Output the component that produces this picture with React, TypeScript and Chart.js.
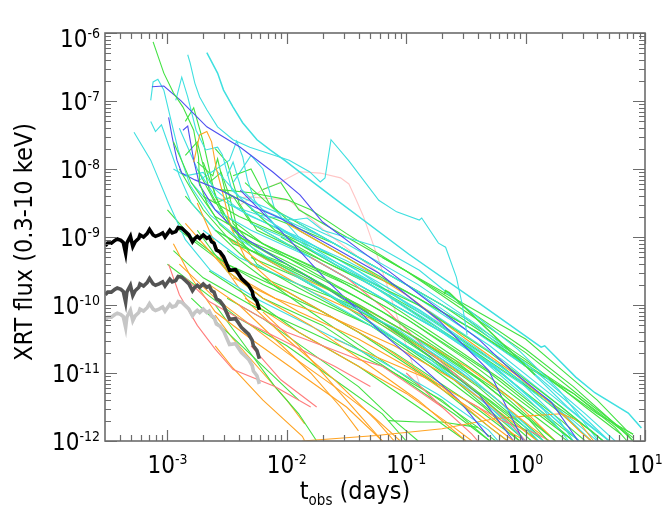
import { useEffect, useRef } from "react";
import { Chart, registerables } from "chart.js";

Chart.register(...registerables);

// Each track is a list of [log10 t (days), log10 flux (erg cm^-2 s^-1)]
type Track = [number, number][];

const T_MIN = 3.08e-4;
const T_MAX = 10;
const F_MIN = 1e-12;
const F_MAX = 1e-6;

const xTickExponents = [-3, -2, -1, 0, 1];
const yTickExponents = [-6, -7, -8, -9, -10, -11, -12];

// Template light curves (thick): shared sampling times
const thickLogT = [-3.52, -3.5, -3.47, -3.44, -3.42, -3.39, -3.37, -3.35, -3.34, -3.31, -3.29, -3.27, -3.24, -3.23, -3.2, -3.17, -3.15, -3.12, -3.1, -3.07, -3.04, -3.02, -3.0, -2.98, -2.96, -2.93, -2.91, -2.88, -2.85, -2.82, -2.79, -2.77, -2.75, -2.73, -2.7, -2.67, -2.65, -2.63, -2.61, -2.59, -2.56, -2.53, -2.5, -2.48, -2.43, -2.41, -2.38, -2.35, -2.32, -2.29, -2.28, -2.25, -2.23];
const blackLogF = [-9.13, -9.09, -9.09, -9.05, -9.03, -9.05, -9.08, -9.24, -9.09, -8.99, -9.14, -9.07, -9.02, -8.97, -9.0, -8.95, -8.89, -8.97, -8.99, -8.97, -8.94, -9.0, -8.95, -8.9, -8.94, -8.92, -8.86, -8.87, -8.92, -8.97, -9.07, -9.02, -8.99, -9.02, -8.97, -9.02, -9.0, -9.07, -9.09, -9.19, -9.22, -9.29, -9.41, -9.49, -9.48, -9.53, -9.61, -9.66, -9.71, -9.8, -9.88, -9.95, -10.07];
const darkGrayLogF = [-9.85, -9.81, -9.81, -9.77, -9.75, -9.77, -9.8, -9.96, -9.81, -9.71, -9.86, -9.79, -9.74, -9.69, -9.72, -9.67, -9.61, -9.69, -9.71, -9.69, -9.66, -9.72, -9.67, -9.62, -9.66, -9.64, -9.58, -9.59, -9.64, -9.69, -9.79, -9.74, -9.71, -9.74, -9.69, -9.74, -9.72, -9.79, -9.81, -9.91, -9.94, -10.01, -10.13, -10.21, -10.2, -10.25, -10.33, -10.38, -10.43, -10.52, -10.6, -10.67, -10.79];
const lightGrayLogF = [-10.22, -10.18, -10.18, -10.14, -10.12, -10.14, -10.17, -10.33, -10.18, -10.08, -10.23, -10.16, -10.11, -10.06, -10.09, -10.04, -9.98, -10.06, -10.08, -10.06, -10.03, -10.09, -10.04, -9.99, -10.03, -10.01, -9.95, -9.96, -10.01, -10.06, -10.16, -10.11, -10.08, -10.11, -10.06, -10.11, -10.09, -10.16, -10.18, -10.28, -10.31, -10.38, -10.5, -10.58, -10.57, -10.62, -10.7, -10.75, -10.8, -10.89, -10.97, -11.04, -11.16];

const cyanLongTrack: Track = [[-2.67, -6.29], [-2.58, -6.59], [-2.53, -6.84], [-2.45, -7.09], [-2.37, -7.32], [-2.25, -7.57], [-2.14, -7.72], [-2.02, -7.87], [-1.85, -8.1], [-1.64, -8.38], [-0.98, -9.25], [-0.31, -10.07], [0.13, -10.62], [0.16, -10.6], [0.42, -11.06], [0.58, -11.29], [0.86, -11.59], [0.97, -11.81]];

const cyanTracks: Track[] = [
  [[-2.83, -6.32], [-2.81, -6.44], [-2.77, -6.74], [-2.73, -6.94], [-2.67, -7.13], [-2.58, -7.38], [-2.45, -7.57], [-2.31, -7.68], [-2.17, -7.76], [-1.98, -7.87], [-1.81, -8.04], [-1.72, -8.19], [-1.68, -8.13], [-1.63, -7.57], [-1.48, -7.88], [-1.23, -8.46], [-1.08, -8.63], [-0.89, -8.75], [-0.87, -8.72], [-0.73, -9.09], [-0.67, -9.15], [-0.58, -9.59], [-0.53, -10.0], [-0.49, -10.44]],
  [[-3.14, -6.99], [-3.12, -6.72], [-3.08, -6.68], [-3.03, -6.84], [-2.98, -7.21], [-2.91, -7.72], [-2.81, -8.24], [-2.64, -8.68], [-2.39, -9.04], [-2.06, -9.41], [-1.56, -9.93], [-1.06, -10.37], [-0.56, -10.96], [-0.23, -11.4], [0.11, -12]],
  [[-2.93, -6.99], [-2.88, -6.65], [-2.83, -6.94], [-2.76, -7.43], [-2.68, -7.72], [-2.58, -7.68], [-2.54, -7.79], [-2.46, -8.31], [-2.23, -8.68], [-1.89, -9.04], [-1.48, -9.49], [-0.89, -10.07], [-0.39, -10.66], [-0.06, -11.1], [0.28, -11.69], [0.4, -12]],
  [[-2.73, -8.16], [-2.6, -8.01], [-2.48, -7.87], [-2.42, -7.59], [-2.37, -7.82], [-2.33, -8.16], [-2.27, -8.46], [-2.1, -8.82], [-1.73, -9.26], [-1.23, -9.78], [-0.73, -10.37], [-0.23, -10.96], [0.15, -11.54], [0.36, -12]],
  [[-3.28, -7.46], [-3.14, -7.87], [-3.0, -8.46], [-2.85, -9.04], [-2.64, -9.49], [-2.23, -9.93], [-1.73, -10.37], [-1.23, -10.81], [-0.73, -11.32], [-0.31, -11.84], [-0.23, -12]],
  [[-2.48, -8.53], [-2.23, -8.68], [-1.95, -8.75], [-1.83, -8.72], [-1.7, -8.9], [-1.23, -9.15], [-0.89, -9.49], [-0.48, -10.07], [-0.06, -10.66], [0.28, -11.25], [0.61, -12]],
  [[-2.8, -8.2], [-2.6, -8.6], [-2.3, -8.9], [-1.8, -9.3], [-1.2, -9.9], [-0.6, -10.5], [0.0, -11.2], [0.4, -11.7], [0.6, -12]],
  [[-2.6, -8.0], [-2.4, -8.4], [-2.0, -8.7], [-1.5, -9.1], [-0.9, -9.7], [-0.4, -10.3], [0.1, -11.0], [0.5, -11.6], [0.75, -12]],
  [[-2.2, -8.9], [-1.8, -9.3], [-1.2, -9.9], [-0.7, -10.4], [-0.2, -11.0], [0.2, -11.6], [0.45, -12]],
  [[-2.7, -8.9], [-2.4, -9.3], [-1.9, -9.7], [-1.3, -10.3], [-0.8, -10.8], [-0.3, -11.5], [0.0, -12]],
  [[-1.9, -8.8], [-1.5, -9.2], [-1.0, -9.7], [-0.5, -10.3], [0.0, -10.9], [0.4, -11.5], [0.7, -12]],
  [[-2.9, -7.4], [-2.75, -8.0], [-2.6, -8.4], [-2.3, -8.7], [-1.9, -9.0], [-1.4, -9.5], [-0.9, -10.1], [-0.3, -10.8], [0.2, -11.4], [0.55, -12]],
  [[-2.5, -8.1], [-2.45, -7.9], [-2.38, -8.3], [-2.2, -8.6], [-1.7, -9.0], [-1.1, -9.6], [-0.5, -10.2], [0.0, -10.9], [0.35, -11.5], [0.7, -12]],
  [[-2.1, -9.3], [-1.6, -9.8], [-1.0, -10.4], [-0.5, -11.0], [-0.1, -11.6], [0.15, -12]],
  [[-3.14, -7.3], [-3.1, -7.45], [-3.05, -7.35], [-3.0, -7.6], [-2.9, -8.1], [-2.8, -8.5], [-2.6, -8.9], [-2.2, -9.3], [-1.6, -9.9], [-1.0, -10.6], [-0.5, -11.2], [-0.1, -11.8], [0.0, -12]],
  [[-2.95, -8.0], [-2.85, -8.1], [-2.7, -8.05], [-2.6, -8.3], [-2.4, -8.6], [-2.0, -8.95], [-1.5, -9.35], [-0.9, -9.9], [-0.3, -10.6], [0.2, -11.3], [0.55, -11.8], [0.7, -12]],
  [[-2.45, -8.2], [-2.3, -7.8], [-2.2, -8.0], [-2.1, -8.6], [-1.9, -9.0], [-1.4, -9.5], [-0.8, -10.1], [-0.2, -10.8], [0.3, -11.5], [0.65, -12]],
  [[-2.3, -8.8], [-1.9, -9.1], [-1.5, -9.45], [-1.1, -9.85], [-0.7, -10.3], [-0.3, -10.85], [0.1, -11.45], [0.45, -12]],
  [[-2.0, -9.0], [-1.6, -9.4], [-1.2, -9.8], [-0.8, -10.25], [-0.4, -10.75], [0.0, -11.35], [0.3, -11.85], [0.4, -12]],
];

const greenLateTrack: Track = [[-0.68, -9.84], [-0.67, -9.79], [-0.64, -9.82], [0.08, -11.03]];

const greenTracks: Track[] = [
  [[-3.12, -6.13], [-3.03, -6.59], [-2.95, -6.88], [-2.87, -7.09], [-2.78, -7.43], [-2.74, -7.82], [-2.73, -8.21], [-2.67, -8.5], [-2.56, -8.82], [-2.31, -9.19], [-1.89, -9.56], [-1.39, -10.0], [-0.89, -10.51], [-0.39, -11.1], [0.03, -11.69], [0.19, -12]],
  [[-2.95, -7.6], [-2.8, -8.2], [-2.6, -8.7], [-2.3, -9.0], [-1.8, -9.5], [-1.2, -10.1], [-0.6, -10.8], [-0.1, -11.5], [0.25, -12]],
  [[-2.9, -8.0], [-2.7, -8.6], [-2.45, -9.1], [-2.0, -9.4], [-1.5, -9.9], [-1.0, -10.5], [-0.4, -11.3], [0.05, -12]],
  [[-2.85, -7.8], [-2.75, -7.6], [-2.65, -8.3], [-2.5, -8.8], [-2.2, -9.1], [-1.6, -9.6], [-1.0, -10.2], [-0.5, -10.8], [0.1, -11.6], [0.4, -12]],
  [[-2.7, -8.4], [-2.4, -8.7], [-2.0, -9.0], [-1.5, -9.5], [-0.9, -10.0], [-0.3, -10.7], [0.3, -11.5], [0.65, -12]],
  [[-2.6, -8.9], [-2.3, -9.2], [-1.8, -9.6], [-1.2, -10.3], [-0.6, -11.0], [-0.1, -11.7], [0.1, -12]],
  [[-3.0, -8.6], [-2.8, -9.0], [-2.5, -9.4], [-2.0, -9.8], [-1.4, -10.4], [-0.8, -11.1], [-0.3, -11.8], [-0.15, -12]],
  [[-2.75, -8.9], [-2.5, -9.5], [-2.2, -9.9], [-1.7, -10.3], [-1.1, -11.0], [-0.6, -11.6], [-0.3, -12]],
  [[-2.55, -8.3], [-2.35, -8.5], [-2.1, -8.9], [-1.6, -9.3], [-1.0, -9.8], [-0.4, -10.4], [0.2, -11.1], [0.6, -11.6], [0.9, -11.9]],
  [[-2.5, -8.7], [-2.2, -9.1], [-1.7, -9.5], [-1.1, -10.0], [-0.5, -10.6], [0.1, -11.3], [0.55, -11.85], [0.65, -12]],
  [[-2.95, -9.2], [-2.7, -9.6], [-2.3, -10.0], [-1.8, -10.4], [-1.2, -10.9], [-0.7, -11.4], [-0.3, -12]],
  [[-2.65, -9.5], [-2.3, -9.9], [-1.9, -10.4], [-1.4, -10.9], [-0.9, -11.5], [-0.5, -12]],
  [[-2.8, -9.9], [-2.5, -10.4], [-2.2, -10.9], [-1.9, -11.4]],
  [[-2.6, -10.0], [-2.35, -10.6], [-2.1, -11.2], [-1.9, -11.6], [-1.75, -12]],
  [[-2.45, -8.1], [-2.3, -8.0], [-2.15, -8.5], [-1.9, -8.9], [-1.5, -9.3], [-0.9, -9.9], [-0.4, -10.4], [0.0, -10.9], [0.4, -11.3], [0.85, -11.9], [0.9, -12]],
  [[-2.3, -8.6], [-2.0, -8.8], [-1.6, -9.1], [-1.0, -9.7], [-0.5, -10.2], [0.0, -10.8], [0.5, -11.5], [0.8, -11.9]],
  [[-2.7, -7.9], [-2.55, -8.6], [-2.4, -9.0], [-2.0, -9.3], [-1.5, -9.7], [-1.0, -10.2], [-0.3, -11.0], [0.2, -11.7], [0.4, -12]],
  [[-2.85, -8.4], [-2.6, -8.9], [-2.3, -9.4], [-1.9, -9.7], [-1.3, -10.1], [-0.8, -10.6], [-0.2, -11.3], [0.25, -12]],
  [[-2.2, -9.6], [-1.8, -9.9], [-1.3, -10.3], [-0.8, -10.8], [-0.3, -11.4], [0.0, -11.8], [0.15, -12]],
  [[-2.5, -9.2], [-2.2, -9.6], [-1.8, -10.1], [-1.3, -10.7], [-0.8, -11.3], [-0.4, -11.8], [-0.25, -12]],
  [[-1.15, -11.7], [-0.9, -11.72], [-0.7, -11.72], [-0.4, -11.8]],
  [[-2.75, -8.0], [-2.6, -8.5], [-2.45, -8.4], [-2.3, -8.8], [-2.0, -9.1], [-1.4, -9.6], [-0.8, -10.2], [-0.2, -10.9], [0.3, -11.6], [0.55, -12]],
  [[-2.4, -9.0], [-2.0, -9.4], [-1.5, -9.9], [-0.9, -10.6], [-0.4, -11.2], [0.0, -11.8], [0.1, -12]],
  [[-2.9, -8.9], [-2.6, -9.3], [-2.2, -9.7], [-1.7, -10.1], [-1.1, -10.7], [-0.5, -11.4], [-0.05, -12]],
  [[-2.35, -8.2], [-2.1, -8.6], [-1.7, -9.0], [-1.2, -9.5], [-0.7, -10.0], [-0.2, -10.6], [0.4, -11.3], [0.75, -11.8], [0.85, -12]],
  [[-2.85, -7.3], [-2.78, -7.1], [-2.7, -7.6], [-2.6, -8.4], [-2.45, -8.9], [-2.2, -9.3], [-1.7, -9.8], [-1.1, -10.5], [-0.6, -11.1], [-0.2, -11.7], [0.0, -12]],
  [[-2.6, -7.7], [-2.5, -7.9], [-2.4, -8.5], [-2.25, -8.9], [-1.9, -9.2], [-1.3, -9.8], [-0.7, -10.5], [-0.2, -11.1], [0.3, -11.8], [0.45, -12]],
  [[-2.2, -8.3], [-2.05, -8.2], [-1.9, -8.6], [-1.5, -9.0], [-1.0, -9.5], [-0.5, -10.1], [0.0, -10.7], [0.5, -11.4], [0.9, -11.95]],
  [[-3.0, -9.4], [-2.7, -9.8], [-2.4, -10.2], [-2.0, -10.6], [-1.6, -11.1], [-1.2, -11.6], [-1.0, -12]],
  [[-2.5, -9.9], [-2.2, -10.2], [-1.8, -10.7], [-1.4, -11.2], [-1.1, -11.7], [-0.9, -12]],
  [[-1.2, -9.3], [-0.6, -9.9], [0.0, -10.5], [0.3, -10.95], [0.6, -11.4], [0.85, -11.85], [0.9, -11.9]],
  [[-2.75, -7.9], [-2.62, -8.1], [-2.58, -7.85], [-2.52, -8.3], [-2.45, -8.8], [-2.3, -9.1], [-1.9, -9.45], [-1.4, -9.9], [-0.9, -10.4], [-0.4, -11.0], [0.05, -11.6], [0.35, -12]],
  [[-2.65, -8.2], [-2.55, -8.05], [-2.48, -8.4], [-2.4, -9.0], [-2.25, -9.4], [-1.9, -9.75], [-1.3, -10.3], [-0.8, -10.9], [-0.35, -11.5], [-0.05, -12]],
  [[-2.58, -8.3], [-2.3, -8.35], [-2.0, -8.45], [-1.8, -8.6], [-1.5, -8.95], [-1.0, -9.5], [-0.5, -10.05], [0.0, -10.65], [0.4, -11.2], [0.75, -11.75], [0.9, -12]],
  [[-2.3, -9.3], [-1.9, -9.6], [-1.5, -10.0], [-1.1, -10.35], [-0.7, -10.8], [-0.3, -11.3], [0.1, -11.9], [0.15, -12]],
  [[-2.05, -9.0], [-1.7, -9.35], [-1.3, -9.7], [-0.9, -10.15], [-0.5, -10.6], [-0.1, -11.15], [0.3, -11.7], [0.5, -12]],
];

const blueTracks: Track[] = [
  [[-3.13, -6.79], [-3.03, -6.78], [-2.89, -6.99], [-2.67, -7.38], [-2.39, -7.68], [-2.12, -8.04], [-1.89, -8.38], [-1.7, -8.78], [-1.39, -9.19], [-1.14, -9.51], [-0.7, -10.1], [-0.39, -10.51], [-0.12, -10.96], [0.22, -11.44], [0.44, -12]],
  [[-2.99, -7.24], [-2.96, -7.53], [-2.92, -7.87], [-2.88, -8.06], [-2.77, -8.16], [-2.56, -8.31], [-2.31, -8.53], [-2.06, -8.72], [-1.64, -9.12], [-1.23, -9.53], [-0.73, -10.22], [-0.31, -10.96], [-0.02, -12]],
  [[-2.87, -7.43], [-2.83, -7.37], [-2.78, -7.87], [-2.73, -8.24], [-2.6, -8.6], [-2.39, -8.97], [-2.06, -9.34], [-1.64, -9.78], [-1.23, -10.22], [-0.81, -10.74], [-0.39, -11.32], [-0.1, -12]],
  [[-2.39, -8.31], [-1.98, -9.04], [-1.67, -9.63], [-1.23, -10.37], [-0.89, -10.88], [-0.56, -11.4], [-0.31, -11.94]],
];

const orangeTracks: Track[] = [
  [[-2.85, -8.8], [-2.7, -9.1], [-2.5, -9.5], [-2.2, -9.9], [-1.8, -10.3], [-1.3, -10.9], [-0.9, -11.4], [-0.5, -12]],
  [[-2.6, -9.3], [-2.3, -9.7], [-1.9, -10.1], [-1.4, -10.5], [-0.9, -11.0], [-0.4, -11.6], [-0.1, -12]],
  [[-2.78, -7.9], [-2.73, -7.5], [-2.67, -7.45], [-2.63, -7.6], [-2.59, -8.0], [-2.53, -8.4], [-2.47, -8.85], [-2.35, -9.3], [-2.1, -9.7], [-1.7, -10.1], [-1.2, -10.6], [-0.7, -11.2], [-0.3, -11.8], [-0.15, -12]],
  [[-2.9, -9.4], [-2.6, -9.9], [-2.3, -10.3], [-2.0, -10.7], [-1.6, -11.2], [-1.3, -11.6], [-1.05, -12]],
  [[-2.45, -9.6], [-2.1, -9.9], [-1.6, -10.2], [-1.1, -10.6], [-0.6, -11.1], [-0.2, -11.6], [0.1, -12]],
  [[-2.6, -10.6], [-2.45, -10.93], [-2.2, -11.4], [-1.87, -11.93], [-1.85, -12]],
  [[-1.87, -12], [-1.25, -11.92], [-0.7, -11.82], [-0.25, -11.67], [0.03, -11.63], [0.3, -11.6], [0.44, -11.7], [0.57, -12]],
  [[-2.3, -9.2], [-2.0, -9.5], [-1.5, -9.9], [-1.0, -10.4], [-0.5, -10.9], [-0.1, -11.4], [0.25, -12]],
  [[-2.0, -8.8], [-1.5, -9.3], [-1.0, -9.85], [-0.5, -10.5], [-0.1, -11.0], [0.25, -11.5], [0.45, -11.85], [0.55, -12]],
  [[-2.95, -9.1], [-2.8, -9.6], [-2.6, -10.1], [-2.3, -10.5], [-1.9, -11.0], [-1.5, -11.5], [-1.2, -12]],
  [[-2.5, -9.0], [-2.2, -9.4], [-1.8, -9.8], [-1.3, -10.2], [-0.8, -10.7], [-0.3, -11.3], [0.05, -11.8], [0.2, -12]],
  [[-2.35, -9.9], [-2.0, -10.3], [-1.5, -10.8], [-1.0, -11.3], [-0.6, -11.8], [-0.45, -12]],
  [[-1.6, -10.5], [-1.2, -10.8], [-0.8, -11.1], [-0.4, -11.5], [-0.1, -11.9], [0.0, -12]],
  [[-2.75, -8.5], [-2.65, -8.9], [-2.5, -9.5], [-2.3, -10.0], [-2.0, -10.5], [-1.6, -11.1], [-1.25, -11.7], [-1.1, -12]],
  [[-2.6, -10.15], [-2.45, -10.5], [-2.2, -11.0], [-2.0, -11.4], [-1.85, -11.75]],
  [[-2.65, -9.7], [-2.4, -10.0], [-2.1, -10.5], [-1.8, -11.0], [-1.55, -11.5], [-1.4, -11.85]],
  [[-2.2, -10.1], [-1.9, -10.6], [-1.6, -11.2], [-1.35, -11.7], [-1.2, -12]],
];

const pinkTracks: Track[] = [
  [[-2.99, -9.4], [-2.9, -9.85], [-2.75, -10.3], [-2.6, -10.65], [-2.45, -10.95], [-2.1, -11.2], [-1.8, -11.5]],
  [[-2.85, -9.6], [-2.65, -9.95], [-2.4, -10.2], [-2.0, -10.55], [-1.6, -10.9], [-1.3, -11.2]],
  [[-2.4, -10.0], [-2.0, -10.4], [-1.7, -10.6], [-1.4, -10.8], [-1.2, -10.9], [-0.95, -11.2], [-0.7, -11.5]],
  [[-2.3, -10.6], [-2.05, -11.1], [-1.75, -11.5]],
  [[-1.8, -9.3], [-1.5, -9.6], [-1.15, -10.1], [-0.8, -10.7], [-0.4, -11.3], [-0.1, -11.8], [0.0, -12]],
  [[-1.0, -11.0], [-0.7, -11.5], [-0.45, -11.9], [-0.4, -12]],
  [[-0.5, -11.4], [-0.2, -11.7], [0.1, -11.9], [0.2, -12]],
];

const palePinkTracks: Track[] = [
  [[-2.39, -8.53], [-2.2, -8.3], [-2.06, -8.2], [-1.89, -8.04], [-1.72, -8.06], [-1.55, -8.13], [-1.48, -8.22], [-1.42, -8.45], [-1.36, -8.69], [-1.23, -9.34], [-1.12, -9.93], [-1.0, -10.6], [-0.88, -11.2]],
  [[-2.67, -8.46], [-2.31, -8.41], [-1.98, -8.46], [-1.64, -8.97], [-1.23, -9.53], [-0.89, -9.99], [-0.56, -10.51]],
];

const COLORS = {
  cyan: "#3fe0e0",
  green: "#42e242",
  blue: "#4f4ff0",
  orange: "#ffa424",
  pink: "#ff7d7d",
  pale: "#ffc6c6",
  black: "#000000",
  darkGray: "#545454",
  lightGray: "#c6c6c6",
  axis: "#6c6c6c",
};

const FAMILY = '"DejaVu Sans", "Liberation Sans", sans-serif';
const SQUEEZE = 0.9;
const MAIN_PX = 24;
const SUP_PX = 14;

function toPoints(track: Track) {
  return track.map(([lt, lf]) => ({ x: 10 ** lt, y: 10 ** lf }));
}

function lineSet(data: { x: number; y: number }[], color: string, width: number) {
  return {
    data,
    borderColor: color,
    backgroundColor: color,
    borderWidth: width,
    pointRadius: 0,
    fill: false,
    tension: 0,
  };
}

function squeezedText(ctx: CanvasRenderingContext2D, text: string, x: number, y: number, px: number) {
  ctx.save();
  ctx.font = `${px}px ${FAMILY}`;
  ctx.textAlign = "left";
  ctx.textBaseline = "alphabetic";
  ctx.translate(x, y);
  ctx.scale(SQUEEZE, 1);
  ctx.fillText(text, 0, 0);
  ctx.restore();
}

function textWidth(ctx: CanvasRenderingContext2D, text: string, px: number) {
  ctx.save();
  ctx.font = `${px}px ${FAMILY}`;
  const w = ctx.measureText(text).width * SQUEEZE;
  ctx.restore();
  return w;
}

function powerLabel(ctx: CanvasRenderingContext2D, exp: number, anchorX: number, baseline: number, align: "right" | "center") {
  const sup = String(exp);
  const w1 = textWidth(ctx, "10", MAIN_PX);
  const w2 = textWidth(ctx, sup, SUP_PX);
  const total = w1 + w2;
  const x0 = align === "right" ? anchorX - total : anchorX - total / 2;
  squeezedText(ctx, "10", x0, baseline, MAIN_PX);
  squeezedText(ctx, sup, x0 + w1, baseline - 9, SUP_PX);
}

const framePlugin = {
  id: "logFrame",
  afterDraw(chart: any) {
    const { ctx, chartArea: a, scales } = chart;
    const xs = scales.x;
    const ys = scales.y;
    ctx.save();
    ctx.strokeStyle = COLORS.axis;
    ctx.lineWidth = 1.2;
    ctx.beginPath();
    for (let d = -4; d <= 1; d++) {
      for (let m = 1; m <= 9; m++) {
        const v = m * 10 ** d;
        if (v < T_MIN * 0.999 || v > T_MAX * 1.001) continue;
        const px = Math.round(xs.getPixelForValue(v)) + 0.5;
        const len = m === 1 ? 11 : 6;
        ctx.moveTo(px, a.bottom);
        ctx.lineTo(px, a.bottom - len);
        ctx.moveTo(px, a.top);
        ctx.lineTo(px, a.top + len);
      }
    }
    for (let d = -12; d <= -6; d++) {
      for (let m = 1; m <= 9; m++) {
        const v = m * 10 ** d;
        if (v < F_MIN * 0.999 || v > F_MAX * 1.001) continue;
        const py = Math.round(ys.getPixelForValue(v)) + 0.5;
        const len = m === 1 ? 12 : 6;
        ctx.moveTo(a.left, py);
        ctx.lineTo(a.left + len, py);
        ctx.moveTo(a.right, py);
        ctx.lineTo(a.right - len, py);
      }
    }
    ctx.stroke();
    ctx.lineWidth = 1.6;
    ctx.strokeRect(a.left, a.top, a.right - a.left, a.bottom - a.top);

    ctx.fillStyle = "#000";
    for (const e of yTickExponents) {
      const py = ys.getPixelForValue(10 ** e);
      const base = Math.max(py + 8.7, a.top + 14);
      powerLabel(ctx, e, a.left - 5, base, "right");
    }
    for (const e of xTickExponents) {
      const px = xs.getPixelForValue(10 ** e);
      powerLabel(ctx, e, px, a.bottom + 32, "center");
    }

    // x title: t_obs (days)
    const tW = textWidth(ctx, "t", 25);
    const subW = textWidth(ctx, "obs", 15);
    const restW = textWidth(ctx, " (days)", 25);
    const titleX = (a.left + a.right) / 2 - 20 - (tW + subW + restW) / 2;
    const titleBase = a.bottom + 58;
    squeezedText(ctx, "t", titleX, titleBase, 25);
    squeezedText(ctx, "obs", titleX + tW, titleBase + 6, 15);
    squeezedText(ctx, " (days)", titleX + tW + subW, titleBase, 25);

    // y title
    ctx.save();
    ctx.translate(32, (a.top + a.bottom) / 2 + 5);
    ctx.rotate(-Math.PI / 2);
    ctx.scale(SQUEEZE, 1);
    ctx.font = `25px ${FAMILY}`;
    ctx.textAlign = "center";
    ctx.textBaseline = "alphabetic";
    ctx.fillText("XRT flux (0.3-10 keV)", 0, 0);
    ctx.restore();

    ctx.restore();
  },
};

function buildDatasets() {
  const sets: any[] = [];
  const thick = (logF: number[], color: string) =>
    lineSet(thickLogT.map((lt, i) => ({ x: 10 ** lt, y: 10 ** logF[i] })), color, 3.6);
  // first entries are drawn on top
  sets.push(thick(blackLogF, COLORS.black));
  sets.push(thick(darkGrayLogF, COLORS.darkGray));
  sets.push(thick(lightGrayLogF, COLORS.lightGray));
  sets.push(lineSet(toPoints(greenLateTrack), COLORS.green, 1.6));
  sets.push(lineSet(toPoints(cyanLongTrack), COLORS.cyan, 1.5));

  const groups: [Track[], string][] = [
    [orangeTracks, COLORS.orange],
    [greenTracks, COLORS.green],
    [pinkTracks, COLORS.pink],
    [cyanTracks, COLORS.cyan],
    [blueTracks, COLORS.blue],
  ];
  const longest = Math.max(...groups.map(([g]) => g.length));
  for (let i = 0; i < longest; i++) {
    for (const [tracks, color] of groups) {
      if (tracks[i]) sets.push(lineSet(toPoints(tracks[i]), color, 1.1));
    }
  }
  for (const tr of palePinkTracks) sets.push(lineSet(toPoints(tr), COLORS.pale, 1.1));
  return sets;
}

export default function App() {
  const canvasRef = useRef<HTMLCanvasElement | null>(null);

  useEffect(() => {
    const canvas = canvasRef.current;
    if (!canvas) return;
    const chart = new Chart(canvas, {
      type: "line",
      data: { datasets: buildDatasets() },
      options: {
        responsive: false,
        animation: false,
        events: [],
        layout: { padding: { left: 105, top: 33, right: 22, bottom: 76 } },
        plugins: { legend: { display: false }, tooltip: { enabled: false } },
        scales: {
          x: { type: "logarithmic", min: T_MIN, max: T_MAX, display: false },
          y: { type: "logarithmic", min: F_MIN, max: F_MAX, display: false },
        },
      },
      plugins: [framePlugin],
    } as any);
    return () => chart.destroy();
  }, []);

  return (
    <div style={{ position: "absolute", left: 0, top: 0, width: 667, height: 517, background: "#fff" }}>
      <canvas ref={canvasRef} width={667} height={517} style={{ display: "block" }} />
    </div>
  );
}
